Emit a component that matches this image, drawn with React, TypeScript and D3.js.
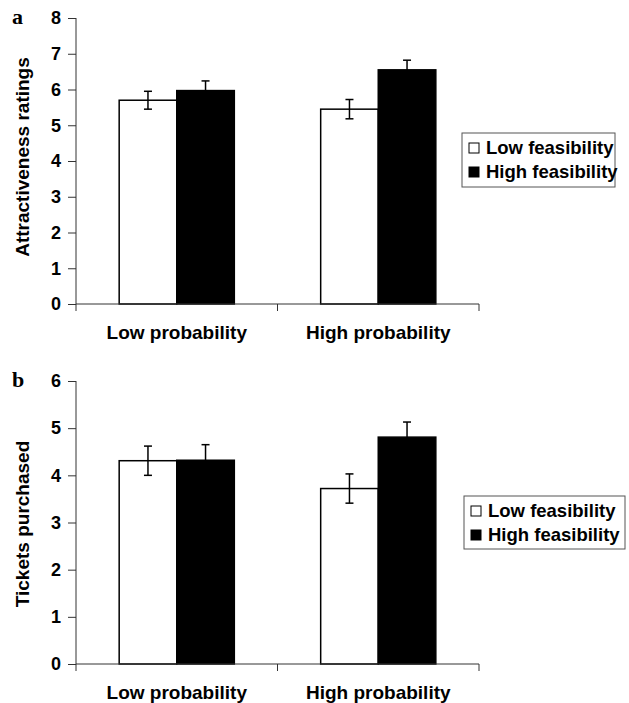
import React, { useEffect, useRef } from "react";
import * as d3 from "d3";

const categories = ["Low probability", "High probability"];
const seriesNames = ["Low feasibility", "High feasibility"];
const seriesFills = ["#ffffff", "#000000"];

// panel a: attractiveness ratings
const attractLow = [5.7, 5.45];
const attractHigh = [5.97, 6.55];
const attractLowErr = [0.25, 0.27];
const attractHighErr = [0.27, 0.27];
const attractTicks = [0, 1, 2, 3, 4, 5, 6, 7, 8];

// panel b: tickets purchased
const ticketsLow = [4.31, 3.72];
const ticketsHigh = [4.32, 4.81];
const ticketsLowErr = [0.31, 0.31];
const ticketsHighErr = [0.33, 0.32];
const ticketsTicks = [0, 1, 2, 3, 4, 5, 6];

const FONT = "'Liberation Sans', Arial, sans-serif";

const App = () => {
    const svgRef = useRef(null);

    useEffect(() => {
        const svg = d3.select(svgRef.current);
        svg.selectAll("*").remove();

        const panels = [
            {
                letter: "a", title: "Attractiveness ratings", titleY: 157,
                low: attractLow, high: attractHigh, lowErr: attractLowErr, highErr: attractHighErr,
                ticks: attractTicks, top: 18, bottom: 304,
                legend: { x: 462, y: 133, w: 153, h: 54 }
            },
            {
                letter: "b", title: "Tickets purchased", titleY: 524,
                low: ticketsLow, high: ticketsHigh, lowErr: ticketsLowErr, highErr: ticketsHighErr,
                ticks: ticketsTicks, top: 381, bottom: 664,
                legend: { x: 464, y: 496, w: 161, h: 53 }
            }
        ];

        const left = 76, right = 479;

        panels.forEach(p => {
            const g = svg.append("g");

            const x = d3.scaleBand().domain(categories).range([left, right]);
            const x1 = d3.scaleBand().domain(seriesNames).range([0, x.bandwidth()])
                .paddingInner(0).paddingOuter(0.75);
            const y = d3.scaleLinear()
                .domain([0, d3.max(p.ticks)])
                .range([p.bottom, p.top]);

            const rows = categories.map((c, i) => ({
                cat: c,
                vals: [
                    { s: seriesNames[0], v: p.low[i], e: p.lowErr[i], fill: seriesFills[0] },
                    { s: seriesNames[1], v: p.high[i], e: p.highErr[i], fill: seriesFills[1] }
                ]
            }));

            // bars
            const grp = g.selectAll(".grp").data(rows).enter().append("g")
                .attr("transform", d => `translate(${x(d.cat)},0)`);

            grp.selectAll("rect").data(d => d.vals).enter().append("rect")
                .attr("x", d => x1(d.s))
                .attr("y", d => y(d.v))
                .attr("width", x1.bandwidth())
                .attr("height", d => p.bottom - y(d.v))
                .attr("fill", d => d.fill)
                .attr("stroke", "#000")
                .attr("stroke-width", 1.5);

            // error bars
            const eb = grp.selectAll(".eb").data(d => d.vals).enter().append("g")
                .attr("transform", d => `translate(${x1(d.s) + x1.bandwidth() / 2},0)`);
            eb.append("line")
                .attr("y1", d => y(d.v - d.e)).attr("y2", d => y(d.v + d.e))
                .attr("stroke", "#000").attr("stroke-width", 1.5);
            eb.append("line")
                .attr("x1", -4).attr("x2", 4)
                .attr("y1", d => y(d.v + d.e)).attr("y2", d => y(d.v + d.e))
                .attr("stroke", "#000").attr("stroke-width", 1.5);
            eb.append("line")
                .attr("x1", -4).attr("x2", 4)
                .attr("y1", d => y(d.v - d.e)).attr("y2", d => y(d.v - d.e))
                .attr("stroke", "#000").attr("stroke-width", 1.5);

            // y axis
            const yAxis = g.append("g")
                .attr("transform", `translate(${left},0)`)
                .call(d3.axisLeft(y).tickValues(p.ticks).tickFormat(d3.format("d"))
                    .tickSize(8).tickSizeOuter(0).tickPadding(7));
            yAxis.select(".domain").remove();
            yAxis.selectAll("line").attr("stroke", "#333");
            yAxis.selectAll("text")
                .attr("font-family", FONT).attr("font-weight", "bold")
                .attr("font-size", 18).attr("fill", "#000");
            g.append("line")
                .attr("x1", left).attr("x2", left)
                .attr("y1", p.top).attr("y2", p.bottom + 7)
                .attr("stroke", "#333");

            // x axis
            g.append("line")
                .attr("x1", left).attr("x2", right)
                .attr("y1", p.bottom).attr("y2", p.bottom)
                .attr("stroke", "#333");
            const bounds = categories.slice(1).map(c => x(c)).concat([right]);
            g.selectAll(".xt").data(bounds).enter().append("line")
                .attr("x1", d => d).attr("x2", d => d)
                .attr("y1", p.bottom).attr("y2", p.bottom + 7)
                .attr("stroke", "#333");
            const xAxis = g.append("g")
                .attr("transform", `translate(0,${p.bottom})`)
                .call(d3.axisBottom(x).tickSize(0).tickPadding(21.5));
            xAxis.select(".domain").remove();
            xAxis.selectAll("text")
                .attr("font-family", FONT).attr("font-weight", "bold")
                .attr("font-size", 19).attr("fill", "#000");

            // axis title
            g.append("text")
                .attr("transform", `translate(29,${p.titleY}) rotate(-90)`)
                .attr("text-anchor", "middle")
                .attr("font-family", FONT).attr("font-weight", "bold").attr("font-size", 19)
                .text(p.title);

            // panel letter
            g.append("text")
                .attr("x", 12).attr("y", p.top + 6)
                .attr("font-family", "'Liberation Serif', 'Times New Roman', serif")
                .attr("font-weight", "bold").attr("font-size", 22)
                .text(p.letter);

            // legend
            const L = p.legend;
            const lg = g.append("g").attr("transform", `translate(${L.x},${L.y})`);
            lg.append("rect")
                .attr("width", L.w).attr("height", L.h)
                .attr("fill", "#fff").attr("stroke", "#555");
            const items = lg.selectAll(".li").data(seriesNames).enter().append("g")
                .attr("transform", (d, i) => `translate(7,${15 + i * 24})`);
            items.append("rect")
                .attr("x", 0).attr("y", -5).attr("width", 10).attr("height", 10)
                .attr("fill", (d, i) => seriesFills[i]).attr("stroke", "#000");
            items.append("text")
                .attr("x", 17).attr("dy", "0.35em")
                .attr("font-family", FONT).attr("font-weight", "bold").attr("font-size", 18.5)
                .text(d => d);
        });
    }, []);

    return (
        <svg ref={svgRef} width={629} height={703}
            style={{ position: "absolute", left: 0, top: 0, background: "#fff" }}></svg>
    );
};

export default App;
